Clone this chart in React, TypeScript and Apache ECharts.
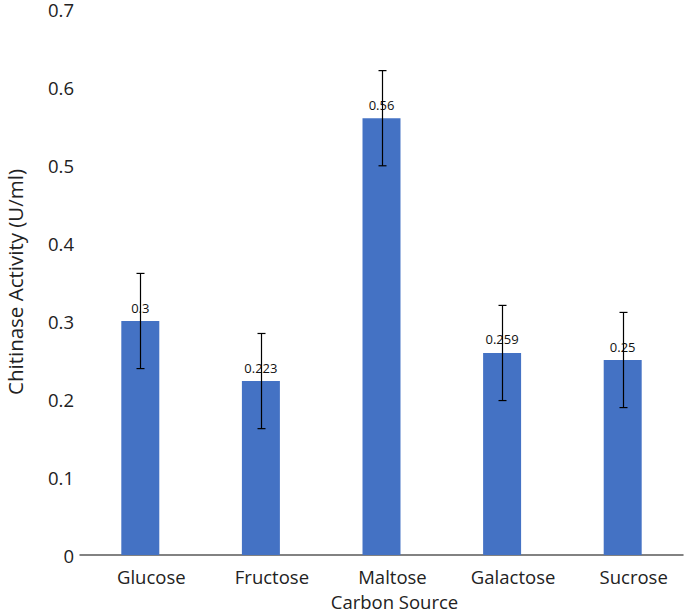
import React, { useEffect, useRef } from "react";
import * as echarts from "echarts";

const categories = ["Glucose", "Fructose", "Maltose", "Galactose", "Sucrose"];
const values = [0.3, 0.223, 0.56, 0.259, 0.25];
const errors = [0.061, 0.061, 0.061, 0.061, 0.061];
const yTicks = { min: 0, max: 0.7, interval: 0.1 };

const FONT = "'Open Sans', 'Liberation Sans', sans-serif";

export default function App() {
  const ref = useRef<HTMLDivElement>(null);
  useEffect(() => {
    if (!ref.current) return;
    const chart = echarts.init(ref.current, null, { renderer: "svg" });
    const errData = values.map((v, i) => [i, v - errors[i], v + errors[i]]);
    chart.setOption({
      animation: false,
      grid: { left: 80, right: 2, top: 9, bottom: 59, containLabel: false, outerBoundsMode: "none" },
      xAxis: {
        type: "category",
        data: categories,
        name: "Carbon Source",
        nameLocation: "middle",
        nameGap: 37,
        nameTextStyle: { fontFamily: FONT, fontSize: 18.5, color: "#222", padding: [0, 0, 0, 26] },
        axisLine: { lineStyle: { color: "#595959", width: 1.5 } },
        axisTick: { show: false },
        axisLabel: { fontFamily: FONT, fontSize: 18.5, color: "#222", margin: 12, padding: [0, 0, 0, 22] },
      },
      yAxis: {
        type: "value",
        min: yTicks.min,
        max: yTicks.max,
        interval: yTicks.interval,
        name: "Chitinase Activity (U/ml)",
        nameLocation: "middle",
        nameGap: 55,
        nameTextStyle: { fontFamily: FONT, fontSize: 20.5, color: "#222" },
        axisLine: { show: false },
        axisTick: { show: false },
        splitLine: { show: false },
        axisLabel: {
          fontFamily: FONT,
          fontSize: 18.5,
          color: "#222",
          margin: 6,
          formatter: (v: number) => String(Math.round(v * 10) / 10),
        },
      },
      series: [
        {
          type: "bar",
          data: values,
          barWidth: "31.5%",
          itemStyle: { color: "#4472C4" },
          label: {
            show: true,
            position: "top",
            distance: 7,
            fontFamily: FONT,
            fontSize: 13,
            color: "#111",
            formatter: (p: any) => String(p.value),
          },
          z: 2,
        },
        {
          type: "custom",
          data: errData,
          z: 10,
          renderItem: (params: any, api: any) => {
            const x = api.value(0);
            const lo = api.coord([x, api.value(1)]);
            const hi = api.coord([x, api.value(2)]);
            const cx = Math.round(lo[0]) + 0.5;
            const half = 4;
            const style = { stroke: "#000", lineWidth: 1.2 };
            return {
              type: "group",
              children: [
                { type: "line", shape: { x1: cx, y1: lo[1], x2: cx, y2: hi[1] }, style },
                { type: "line", shape: { x1: cx - half, y1: lo[1], x2: cx + half, y2: lo[1] }, style },
                { type: "line", shape: { x1: cx - half, y1: hi[1], x2: cx + half, y2: hi[1] }, style },
              ],
            };
          },
        },
      ],
    });
    return () => chart.dispose();
  }, []);
  return (
    <div
      ref={ref}
      style={{ position: "fixed", left: 0, top: 0, width: 685, height: 614, background: "#fff" }}
    />
  );
}
